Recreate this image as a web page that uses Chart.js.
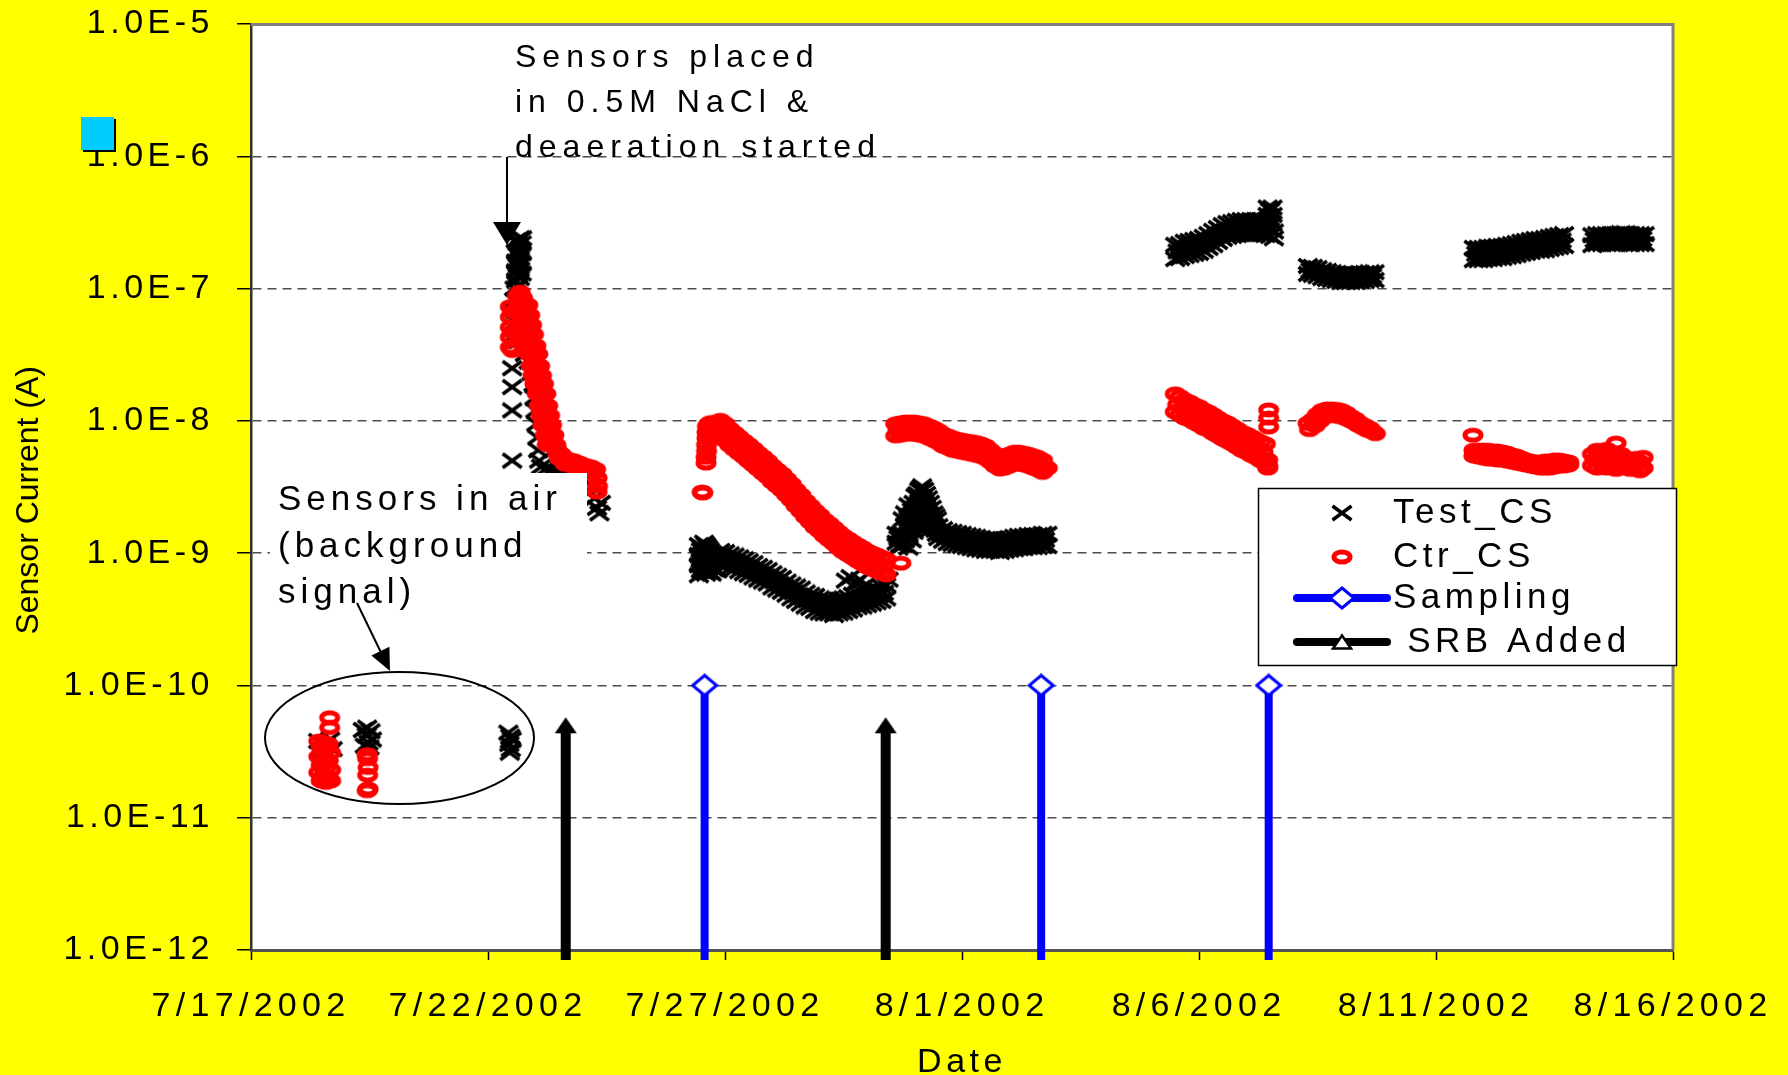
<!DOCTYPE html>
<html>
<head>
<meta charset="utf-8">
<title>Sensor Current vs Date</title>
<script src="https://cdn.jsdelivr.net/npm/chart.js@4/dist/chart.umd.min.js"></script>
<style>
  html, body { margin: 0; padding: 0; background: #ffff00; }
  #wrap { width: 1788px; height: 1075px; }
</style>
</head>
<body>
<div id="wrap"><canvas id="chart" width="1788" height="1075" style="width:1788px;height:1075px"></canvas></div>
<script>
// ---------------- DATA ----------------
// Each entry: [day, reading, reading, ...]  day = days since 7/17/2002 00:00, readings in A.
const xTickDays   = [0, 5, 10, 15, 20, 25, 30];
const xTickLabels = ['7/17/2002', '7/22/2002', '7/27/2002', '8/1/2002', '8/6/2002', '8/11/2002', '8/16/2002'];
const yTickValues = [1e-12, 1e-11, 1e-10, 1e-9, 1e-8, 1e-7, 1e-6, 1e-5];
const yTickLabels = ['1.0E-12', '1.0E-11', '1.0E-10', '1.0E-9', '1.0E-8', '1.0E-7', '1.0E-6', '1.0E-5'];

// Test_CS (black crosses)
const testAir = [[1.42,3.8e-11],[1.47,3.2e-11],[1.52,2.8e-11],[1.57,3.6e-11],[1.62,3.0e-11],[1.67,3.9e-11],[1.72,3.3e-11],
  [2.36,4.6e-11],[2.40,3.5e-11],[2.44,4.2e-11],[2.45,4.8e-11],[2.48,3.7e-11],[2.50,3.4e-11],[2.52,4.5e-11],[2.55,3.9e-11],
  [5.43,4.4e-11],[5.45,3.6e-11],[5.46,3.1e-11],[5.47,4.1e-11],[5.48,3.3e-11],[5.50,3.9e-11]];
const testJul22 = [[5.59,2.3e-7,1.9e-7,1.6e-7,1.35e-7,1.15e-7],[5.63,2.2e-7,1.8e-7,1.5e-7,1.25e-7,1.05e-7],
  [5.67,2.4e-7,2.0e-7,1.7e-7,1.4e-7,1.2e-7],[5.71,2.2e-7,1.85e-7,1.55e-7,1.3e-7],[5.72,2.4e-7],
  [5.51,2.5e-8,1.8e-8,1.2e-8,5.0e-9],
  [5.56,1.0e-7,8.2e-8],[5.57,6.8e-8],[5.58,5.6e-8],[5.60,4.6e-8],[5.64,4.0e-8],[5.70,3.6e-8],[5.78,3.2e-8],
  [5.86,2.8e-8],[5.92,2.3e-8],[5.96,1.9e-8],[5.98,1.5e-8],[6.00,1.2e-8],[6.02,9.5e-9],[6.04,7.5e-9],[6.06,6.0e-9],
  [6.08,5.0e-9],[6.12,4.5e-9],[6.20,4.3e-9],[6.30,4.2e-9],[6.40,4.2e-9],[6.50,4.2e-9],[6.60,4.1e-9],[6.70,4.1e-9],
  [6.80,4.0e-9],[6.90,3.9e-9],[7.00,3.7e-9],[7.10,3.4e-9],[7.15,2.9e-9],[7.20,3.2e-9],[7.25,2.6e-9],[7.30,2.2e-9],
  [7.35,2.0e-9],[7.38,2.4e-9]];
const testJul26 = [[9.45,1.15e-9,9.7e-10,8.1e-10,6.8e-10],[9.49,1.05e-9,8.8e-10,7.4e-10],[9.52,1.1e-9,9.2e-10,7.6e-10],
  [9.56,1.2e-9,1.0e-9,8.4e-10,7.2e-10],[9.60,1.15e-9,9.7e-10,8.1e-10,7.0e-10],[9.64,1.1e-9,9.0e-10,7.6e-10],
  [9.68,1.05e-9,8.6e-10,7.2e-10],[9.72,1.0e-9,8.2e-10,7.0e-10],[9.76,9.2e-10,7.6e-10],[9.80,9.0e-10,7.5e-10],[9.84,8.6e-10,7.4e-10],
  [9.9,1.04e-9,8.1e-10],[9.95,9.1e-10],[10.0,1.02e-9,8.0e-10],[10.05,8.9e-10],[10.1,9.8e-10,7.7e-10],[10.15,8.65e-10],
  [10.2,9.6e-10,7.6e-10],[10.25,8.4e-10],[10.3,9.3e-10,7.3e-10],[10.35,8.1e-10],[10.4,9.0e-10,7.05e-10],[10.45,7.85e-10],
  [10.5,8.7e-10,6.85e-10],[10.55,7.6e-10],[10.6,8.4e-10,6.55e-10],[10.65,7.25e-10],[10.7,8.0e-10,6.3e-10],[10.75,6.95e-10],
  [10.8,7.75e-10,6.1e-10],[10.85,6.7e-10],[10.9,7.45e-10,5.9e-10],[10.95,6.45e-10],[11.0,7.05e-10,5.5e-10],[11.05,6.1e-10],
  [11.1,6.75e-10,5.3e-10],[11.15,5.85e-10],[11.2,6.5e-10,5.1e-10],[11.25,5.6e-10],[11.3,6.1e-10,4.85e-10],[11.35,5.3e-10],
  [11.4,5.8e-10,4.55e-10],[11.45,5.05e-10],[11.5,5.6e-10,4.35e-10],[11.55,4.8e-10],[11.6,5.4e-10,4.15e-10],[11.65,4.6e-10],
  [11.7,5.05e-10,3.95e-10],[11.75,4.4e-10],[11.8,4.85e-10,3.85e-10],[11.85,4.3e-10],[11.9,4.75e-10,3.65e-10],[11.95,4.1e-10],
  [12.0,4.55e-10,3.55e-10],[12.05,4.0e-10],[12.1,4.45e-10,3.5e-10],[12.15,3.95e-10],[12.2,4.45e-10,3.5e-10],[12.25,3.9e-10],
  [12.3,4.35e-10,3.4e-10],[12.35,3.9e-10],[12.4,4.45e-10,3.5e-10],[12.45,4.0e-10],[12.5,4.55e-10,3.55e-10],[12.55,4.1e-10,6.2e-10],
  [12.6,4.65e-10,3.65e-10],[12.65,4.2e-10,6.6e-10],[12.7,4.85e-10,3.75e-10],[12.75,4.35e-10,5.9e-10],[12.8,4.95e-10,3.9e-10],
  [12.85,4.5e-10,6.3e-10],[12.9,5.05e-10,3.95e-10],[12.95,4.55e-10,5.7e-10],[13.0,5.2e-10,4.05e-10],[13.05,4.6e-10],
  [13.1,5.3e-10,4.15e-10],[13.15,4.7e-10],[13.2,5.4e-10,4.25e-10],[13.25,4.8e-10],[13.3,5.6e-10,4.35e-10],[13.35,5.0e-10],
  [13.4,5.7e-10,4.55e-10],[13.45,6.3e-10]];
const testJul31 = [[13.62,1.4e-9,1.2e-9],[13.66,1.3e-9,1.1e-9],[13.70,1.4e-9,1.15e-9],[13.75,1.8e-9,1.4e-9,1.15e-9],
  [13.80,2.0e-9,1.6e-9,1.25e-9],[13.87,2.3e-9,1.8e-9,1.4e-9,1.1e-9],[13.94,2.1e-9,1.6e-9,1.25e-9],[13.98,2.4e-9,1.9e-9,1.45e-9],
  [14.02,2.7e-9,2.1e-9,1.6e-9],[14.06,2.8e-9,2.2e-9,1.7e-9],[14.10,3.0e-9,2.4e-9,1.8e-9],[14.13,3.1e-9,2.5e-9,1.9e-9],
  [14.16,3.2e-9,2.6e-9,2.0e-9,1.5e-9],[14.20,3.0e-9,2.4e-9,1.8e-9],[14.24,2.8e-9,2.2e-9,1.7e-9],[14.28,2.6e-9,2.0e-9,1.6e-9],
  [14.32,2.4e-9,1.9e-9,1.5e-9],[14.36,2.2e-9,1.75e-9],[14.40,2.0e-9,1.6e-9],[14.44,1.9e-9,1.5e-9],[14.47,1.8e-9,1.4e-9],
  [14.5,1.6e-9,1.3e-9],[14.55,1.41e-9],[14.6,1.52e-9,1.24e-9],[14.65,1.35e-9],[14.7,1.47e-9,1.19e-9],[14.75,1.31e-9],
  [14.8,1.45e-9,1.17e-9],[14.85,1.29e-9],[14.9,1.42e-9,1.15e-9],[14.95,1.27e-9],[15.0,1.4e-9,1.13e-9],[15.05,1.25e-9],
  [15.1,1.37e-9,1.11e-9],[15.15,1.22e-9],[15.2,1.35e-9,1.09e-9],[15.25,1.2e-9],[15.3,1.33e-9,1.07e-9],[15.35,1.18e-9],
  [15.4,1.3e-9,1.06e-9],[15.45,1.16e-9],[15.5,1.28e-9,1.04e-9],[15.55,1.15e-9],[15.6,1.28e-9,1.04e-9],[15.65,1.15e-9],
  [15.7,1.28e-9,1.04e-9],[15.75,1.14e-9],[15.8,1.26e-9,1.02e-9],[15.85,1.14e-9],[15.9,1.28e-9,1.04e-9],[15.95,1.16e-9],
  [16.0,1.3e-9,1.06e-9],[16.05,1.18e-9],[16.1,1.33e-9,1.07e-9],[16.15,1.2e-9],[16.2,1.35e-9,1.09e-9],[16.25,1.21e-9],
  [16.3,1.35e-9,1.09e-9],[16.35,1.22e-9],[16.4,1.37e-9,1.11e-9],[16.45,1.24e-9],[16.5,1.37e-9,1.11e-9],[16.55,1.24e-9],
  [16.6,1.37e-9,1.11e-9],[16.65,1.25e-9],[16.7,1.4e-9,1.13e-9],[16.75,1.26e-9],[16.8,1.4e-9,1.13e-9]];
const testAug6 = [[19.5,2.14e-7,1.67e-7],[19.55,1.91e-7],[19.6,2.17e-7,1.7e-7],[19.65,1.96e-7],[19.7,2.26e-7,1.76e-7],
  [19.75,2.01e-7],[19.8,2.29e-7,1.79e-7],[19.85,2.04e-7],[19.9,2.33e-7,1.83e-7],[19.95,2.08e-7],[20.0,2.37e-7,1.86e-7],
  [20.05,2.14e-7],[20.1,2.46e-7,1.93e-7],[20.15,2.23e-7],[20.2,2.58e-7,2.03e-7],[20.25,2.35e-7],[20.3,2.73e-7,2.13e-7],
  [20.35,2.48e-7],[20.4,2.87e-7,2.25e-7],[20.45,2.61e-7],[20.5,3.02e-7,2.37e-7],[20.55,2.72e-7],[20.6,3.13e-7,2.46e-7],
  [20.65,2.8e-7],[20.7,3.18e-7,2.5e-7],[20.75,2.85e-7],[20.8,3.25e-7,2.54e-7],[20.85,2.9e-7],[20.9,3.3e-7,2.58e-7],
  [20.95,2.92e-7],[21.0,3.3e-7,2.58e-7],[21.05,2.92e-7],[21.1,3.3e-7,2.58e-7],[21.15,2.92e-7],[21.2,3.3e-7,2.58e-7],
  [21.25,2.92e-7],[21.3,3.3e-7,2.58e-7],[21.35,2.9e-7],[21.4,3.25e-7,2.54e-7],[21.45,2.85e-7,4.1e-7,3.6e-7],
  [21.5,3.18e-7,2.5e-7,3.9e-7,3.4e-7],[21.55,4.1e-7,3.6e-7,3.1e-7],[21.58,2.7e-7,2.4e-7]];
const testAug8 = [[22.3,1.48e-7,1.29e-7],[22.35,1.37e-7],[22.4,1.46e-7,1.27e-7],[22.45,1.35e-7],[22.5,1.43e-7,1.24e-7],
  [22.55,1.31e-7],[22.6,1.38e-7,1.2e-7],[22.65,1.28e-7],[22.7,1.36e-7,1.18e-7],[22.75,1.25e-7],[22.8,1.33e-7,1.16e-7],
  [22.85,1.23e-7],[22.9,1.31e-7,1.14e-7],[22.95,1.21e-7],[23.0,1.29e-7,1.12e-7],[23.05,1.2e-7],[23.1,1.29e-7,1.12e-7],
  [23.15,1.2e-7],[23.2,1.29e-7,1.12e-7],[23.25,1.2e-7],[23.3,1.29e-7,1.12e-7],[23.35,1.21e-7],[23.4,1.31e-7,1.14e-7],
  [23.45,1.22e-7],[23.5,1.31e-7,1.14e-7],[23.55,1.23e-7],[23.6,1.33e-7,1.16e-7],[23.65,1.24e-7],[23.7,1.33e-7,1.16e-7]];
const testAug12 = [[25.8,2.03e-7,1.64e-7],[25.85,1.83e-7],[25.9,2.03e-7,1.64e-7],[25.95,1.83e-7],[26.0,2.03e-7,1.64e-7],
  [26.05,1.84e-7],[26.1,2.07e-7,1.67e-7],[26.15,1.86e-7],[26.2,2.07e-7,1.67e-7],[26.25,1.88e-7],[26.3,2.1e-7,1.7e-7],
  [26.35,1.89e-7],[26.4,2.1e-7,1.7e-7],[26.45,1.91e-7],[26.5,2.14e-7,1.74e-7],[26.55,1.94e-7],[26.6,2.17e-7,1.76e-7],
  [26.65,1.98e-7],[26.7,2.21e-7,1.79e-7],[26.75,2.01e-7],[26.8,2.26e-7,1.83e-7],[26.85,2.04e-7],[26.9,2.29e-7,1.86e-7],
  [26.95,2.08e-7],[27.0,2.33e-7,1.89e-7],[27.05,2.12e-7],[27.1,2.37e-7,1.93e-7],[27.15,2.14e-7],[27.2,2.37e-7,1.93e-7],
  [27.25,2.15e-7],[27.3,2.41e-7,1.95e-7],[27.35,2.19e-7],[27.4,2.46e-7,1.99e-7],[27.45,2.23e-7],[27.5,2.5e-7,2.03e-7],
  [27.55,2.27e-7],[27.6,2.54e-7,2.06e-7],[27.65,2.31e-7],[27.7,2.58e-7,2.1e-7],
  [28.3,2.53e-7,2.13e-7],[28.35,2.33e-7],[28.4,2.58e-7,2.17e-7],[28.45,2.37e-7],[28.5,2.58e-7,2.17e-7],[28.55,2.37e-7],
  [28.6,2.58e-7,2.17e-7],[28.65,2.37e-7],[28.7,2.58e-7,2.17e-7],[28.75,2.37e-7],[28.8,2.58e-7,2.17e-7],[28.85,2.41e-7],
  [28.9,2.62e-7,2.21e-7],[28.95,2.41e-7],[29.0,2.62e-7,2.21e-7],[29.05,2.37e-7],[29.1,2.58e-7,2.17e-7],[29.15,2.37e-7],
  [29.2,2.58e-7,2.17e-7],[29.25,2.37e-7],[29.3,2.58e-7,2.17e-7],[29.35,2.37e-7],[29.4,2.58e-7,2.17e-7]];

// Ctr_CS (red circles)
const ctrAir = [[1.43,3.8e-11,2.9e-11,2.2e-11],[1.48,3.4e-11,2.5e-11,1.9e-11],[1.53,3.7e-11,2.8e-11,2.1e-11],
  [1.58,3.3e-11,2.4e-11,1.85e-11],[1.63,3.6e-11,2.7e-11,2.0e-11],[1.68,3.1e-11,2.3e-11,1.9e-11],[1.66,5.7e-11,4.8e-11],
  [2.45,3.0e-11,1.6e-11],[2.46,2.8e-11,2.1e-11],[2.47,2.4e-11,1.65e-11]];
const ctrJul22 = [[5.47,7.3e-8,6.1e-8,5.1e-8,4.3e-8,3.6e-8],[5.52,6.7e-8,4.7e-8,3.4e-8],[5.62,8.8e-8],[5.68,9.4e-8],[5.73,8.5e-8],
  [5.66,7.5e-8],[5.84,7.5e-8],[5.75,7.5e-8],[5.77,6.9e-8],[5.70,6.3e-8],[5.88,6.3e-8],[5.79,6.3e-8],[5.81,5.8e-8],
  [5.74,5.3e-8],[5.92,5.3e-8],[5.83,5.3e-8],[5.85,4.9e-8],[5.78,4.5e-8],[5.96,4.5e-8],[5.87,4.5e-8],[5.89,4.1e-8],
  [5.83,3.7e-8],[6.01,3.7e-8],[5.92,3.7e-8],[5.94,3.4e-8],[5.87,3.2e-8],[6.05,3.2e-8],[5.96,3.2e-8],[5.98,2.9e-8],
  [5.91,2.6e-8],[6.09,2.6e-8],[6.00,2.6e-8],[6.02,2.4e-8],[5.95,2.2e-8],[6.13,2.2e-8],[6.04,2.2e-8],[6.06,2.0e-8],
  [5.99,1.9e-8],[6.17,1.9e-8],[6.08,1.9e-8],[6.11,1.7e-8],[6.04,1.6e-8],[6.22,1.6e-8],[6.13,1.6e-8],[6.15,1.44e-8],
  [6.08,1.3e-8],[6.26,1.3e-8],[6.17,1.3e-8],[6.19,1.21e-8],[6.12,1.1e-8],[6.30,1.1e-8],[6.21,1.1e-8],[6.23,1.02e-8],
  [6.16,9.3e-9],[6.34,9.3e-9],[6.25,9.3e-9],[6.27,8.5e-9],[6.21,7.8e-9],[6.39,7.8e-9],[6.30,7.8e-9],[6.32,7.2e-9],
  [6.25,6.6e-9],[6.43,6.6e-9],[6.34,6.6e-9],
  [6.45,6.1e-9],[6.48,5.6e-9],[6.51,5.2e-9],[6.54,5.6e-9],[6.57,5.4e-9],[6.60,5.0e-9],[6.63,4.7e-9],[6.66,5.1e-9],
  [6.69,5.1e-9],[6.72,4.8e-9],[6.75,4.6e-9],[6.78,4.9e-9],[6.81,5.0e-9],[6.84,4.6e-9],[6.87,4.4e-9],[6.90,4.7e-9],
  [6.93,4.8e-9],[6.96,4.4e-9],[6.99,4.2e-9],[7.02,4.5e-9],[7.05,4.6e-9],[7.08,4.3e-9],[7.11,4.1e-9],[7.14,4.4e-9],
  [7.17,4.5e-9],[7.20,4.1e-9],[7.23,4.0e-9],[7.27,4.3e-9],[7.30,3.7e-9,2.9e-9],[7.31,3.2e-9]];
const ctrJul26 = [[9.52,2.9e-9],[9.53,2.85e-9],
  [9.60,4.8e-9,5.3e-9],[9.61,5.9e-9,6.6e-9],[9.62,7.4e-9,8.2e-9],[9.63,9.1e-9],[9.66,9.5e-9],[9.70,9.7e-9],[9.76,9.6e-9],[9.82,9.3e-9],
  [9.9,1.01e-8,7.7e-9],[9.95,8.53e-9],[10.0,9.5e-9,7.15e-9],[10.05,7.89e-9],[10.1,8.7e-9,6.55e-9],[10.15,7.3e-9],
  [10.2,8.1e-9,6.1e-9],[10.25,6.8e-9],[10.3,7.55e-9,5.7e-9],[10.35,6.35e-9],[10.4,7.05e-9,5.35e-9],[10.45,5.92e-9],
  [10.5,6.6e-9,4.97e-9],[10.55,5.52e-9],[10.6,6.15e-9,4.64e-9],[10.65,5.15e-9],[10.7,5.7e-9,4.33e-9],[10.75,4.8e-9],
  [10.8,5.35e-9,4.03e-9],[10.85,4.48e-9],[10.9,4.97e-9,3.77e-9],[10.95,4.15e-9],[11.0,4.56e-9,3.45e-9],[11.05,3.83e-9],
  [11.1,4.25e-9,3.22e-9],[11.15,3.57e-9],[11.2,3.97e-9,3.0e-9],[11.25,3.3e-9],[11.3,3.64e-9,2.75e-9],[11.35,3.03e-9],
  [11.4,3.33e-9,2.52e-9],[11.45,2.75e-9],[11.5,3.0e-9,2.27e-9],[11.55,2.5e-9],[11.6,2.75e-9,2.08e-9],[11.65,2.27e-9],
  [11.7,2.48e-9,1.88e-9],[11.75,2.06e-9],[11.8,2.28e-9,1.72e-9],[11.85,1.89e-9],[11.9,2.09e-9,1.57e-9],[11.95,1.75e-9],
  [12.0,1.94e-9,1.47e-9],[12.05,1.62e-9],[12.1,1.78e-9,1.35e-9],[12.15,1.5e-9],[12.2,1.67e-9,1.26e-9],[12.25,1.4e-9],
  [12.3,1.55e-9,1.18e-9],[12.35,1.3e-9],[12.4,1.44e-9,1.09e-9],[12.45,1.21e-9],[12.5,1.35e-9,1.02e-9],[12.55,1.14e-9],
  [12.6,1.28e-9,9.7e-10],[12.65,1.09e-9],[12.7,1.21e-9,9.2e-10],[12.75,1.03e-9],[12.8,1.15e-9,8.7e-10],
  [12.85,9.8e-10],[12.9,1.1e-9,8.3e-10],[12.95,9.3e-10],[13.0,1.04e-9,7.85e-10],[13.05,8.9e-10],[13.1,1.0e-9,7.6e-10],
  [13.15,8.6e-10],[13.2,9.7e-10,7.3e-10],[13.25,8.3e-10],[13.3,9.35e-10,7.1e-10],[13.35,8.0e-10],[13.4,9.0e-10,6.85e-10],
  [13.71,8.4e-10]];
const ctrJul31 = [[13.6,9.5e-9,7.7e-9],[13.65,8.6e-9],[13.7,9.65e-9,7.8e-9],[13.75,8.75e-9],[13.8,9.8e-9,7.95e-9],[13.85,8.83e-9],
  [13.9,9.8e-9,7.95e-9],[13.95,8.83e-9],[14.0,9.8e-9,7.95e-9],[14.05,8.75e-9],[14.1,9.65e-9,7.8e-9],[14.15,8.6e-9],
  [14.2,9.5e-9,7.7e-9],[14.25,8.38e-9],[14.3,9.15e-9,7.4e-9],[14.35,8.1e-9],[14.4,8.85e-9,7.15e-9],[14.45,7.75e-9],
  [14.5,8.45e-9,6.85e-9],[14.55,7.36e-9],[14.6,7.95e-9,6.45e-9],[14.65,7.05e-9],[14.7,7.7e-9,6.25e-9],[14.75,6.8e-9],
  [14.8,7.45e-9,6.0e-9],[14.85,6.63e-9],[14.9,7.25e-9,5.9e-9],[14.95,6.52e-9],[15.0,7.15e-9,5.8e-9],[15.05,6.4e-9],
  [15.1,7.05e-9,5.7e-9],[15.15,6.3e-9],[15.2,6.95e-9,5.6e-9],[15.25,6.18e-9],[15.3,6.85e-9,5.5e-9],[15.35,6.07e-9],
  [15.4,6.7e-9,5.4e-9],[15.45,5.92e-9],[15.5,6.45e-9,5.2e-9],[15.55,5.62e-9],[15.6,6.0e-9,4.9e-9],[15.65,5.24e-9],
  [15.7,5.6e-9,4.55e-9],[15.75,4.93e-9],[15.8,5.35e-9,4.33e-9],[15.85,4.85e-9],[15.9,5.45e-9,4.4e-9],[15.95,4.97e-9],
  [16.0,5.6e-9,4.55e-9],[16.05,5.15e-9],[16.1,5.8e-9,4.75e-9],[16.15,5.24e-9],[16.2,5.8e-9,4.75e-9],[16.25,5.2e-9],
  [16.3,5.7e-9,4.65e-9],[16.35,5.1e-9],[16.4,5.6e-9,4.55e-9],[16.45,4.97e-9],[16.5,5.45e-9,4.4e-9],[16.55,4.8e-9],
  [16.6,5.3e-9,4.27e-9],[16.65,4.64e-9],[16.7,5.05e-9,4.08e-9],[16.75,4.48e-9],[16.8,4.4e-9]];
const ctrAug6 = [[19.5,1.6e-8,1.17e-8],[19.55,1.33e-8],[19.6,1.52e-8,1.11e-8],[19.65,1.26e-8],[19.7,1.44e-8,1.05e-8],
  [19.75,1.21e-8],[19.8,1.39e-8,1.02e-8],[19.85,1.16e-8],[19.9,1.32e-8,9.7e-9],[19.95,1.11e-8],[20.0,1.28e-8,9.3e-9],
  [20.05,1.06e-8],[20.1,1.21e-8,8.8e-9],[20.15,1.02e-8],[20.2,1.17e-8,8.55e-9],[20.25,9.7e-9],[20.3,1.11e-8,8.05e-9],
  [20.35,9.2e-9],[20.4,1.05e-8,7.7e-9],[20.45,8.75e-9],[20.5,1.0e-8,7.3e-9],[20.55,8.4e-9],[20.6,9.65e-9,7.0e-9],
  [20.65,8.0e-9],[20.7,9.15e-9,6.7e-9],[20.75,7.6e-9],[20.8,8.7e-9,6.35e-9],[20.85,7.2e-9],[20.9,8.2e-9,6.0e-9],
  [20.95,6.9e-9],[21.0,7.95e-9,5.8e-9],[21.05,6.6e-9],[21.1,7.6e-9,5.5e-9],[21.15,6.35e-9],[21.2,7.25e-9,5.3e-9],
  [21.25,6.1e-9],[21.3,6.95e-9,5.0e-9],[21.35,5.8e-9],[21.4,6.7e-9,4.9e-9],[21.45,5.06e-9,4.56e-9,4.4e-9],
  [21.47,1.21e-8,1.05e-8,9.0e-9]];
const ctrAug8 = [[22.30,9.6e-9],[22.33,8.6e-9],[22.40,1.02e-8],[22.45,9.2e-9],[22.50,1.12e-8],[22.55,1.0e-8],[22.60,1.2e-8],
  [22.65,1.08e-8],[22.70,1.23e-8],[22.75,1.1e-8],[22.80,1.23e-8],[22.85,1.1e-8],[22.90,1.22e-8],[22.95,1.08e-8],
  [23.00,1.2e-8],[23.05,1.06e-8],[23.10,1.15e-8],[23.15,1.02e-8],[23.20,1.08e-8],[23.25,9.8e-9],[23.30,1.03e-8],
  [23.35,9.3e-9],[23.40,9.6e-9],[23.45,8.9e-9],[23.50,9.2e-9],[23.55,8.5e-9],[23.60,8.8e-9],[23.66,8.3e-9],[23.72,8.0e-9]];
const ctrAug12 = [[25.78,7.8e-9],
  [25.8,6.0e-9,5.43e-9],[25.85,5.67e-9],[25.9,6.0e-9,5.33e-9],[25.95,5.62e-9],[26.0,6.0e-9,5.24e-9],[26.05,5.57e-9],
  [26.1,6.0e-9,5.15e-9],[26.15,5.55e-9],[26.2,5.92e-9,5.15e-9],[26.25,5.52e-9],[26.3,5.92e-9,5.06e-9],[26.35,5.45e-9],
  [26.4,5.82e-9,5.06e-9],[26.45,5.38e-9],[26.5,5.72e-9,4.97e-9],[26.55,5.26e-9],[26.6,5.52e-9,4.89e-9],[26.65,5.15e-9],
  [26.7,5.43e-9,4.8e-9],[26.75,5.03e-9],[26.8,5.24e-9,4.72e-9],[26.85,4.9e-9],[26.9,5.06e-9,4.64e-9],[26.95,4.8e-9],
  [27.0,4.97e-9,4.56e-9],[27.05,4.72e-9],[27.1,4.89e-9,4.48e-9],[27.15,4.66e-9],[27.2,4.89e-9,4.4e-9],[27.25,4.66e-9],
  [27.3,4.97e-9,4.4e-9],[27.35,4.68e-9],[27.4,4.97e-9,4.4e-9],[27.45,4.72e-9],[27.5,5.06e-9,4.48e-9],[27.55,4.78e-9],
  [27.6,5.06e-9,4.56e-9],[27.65,4.78e-9],[27.7,4.97e-9,4.56e-9],[27.75,4.76e-9],[27.8,4.89e-9,4.64e-9],
  [28.3,5.6e-9,4.6e-9],[28.35,5.1e-9],[28.4,6.0e-9,5.0e-9,4.4e-9],[28.45,5.4e-9],[28.5,5.8e-9,4.7e-9],[28.55,5.2e-9],
  [28.6,6.1e-9,5.1e-9,4.4e-9],[28.65,5.4e-9],[28.7,5.7e-9,4.6e-9],[28.75,5.1e-9],[28.8,6.8e-9,5.0e-9,4.3e-9],[28.85,5.3e-9],
  [28.9,5.6e-9,4.6e-9],[28.95,5.0e-9],[29.0,5.2e-9,4.4e-9],[29.05,4.8e-9],[29.1,5.0e-9,4.3e-9],[29.15,4.7e-9],
  [29.2,5.2e-9,4.5e-9],[29.25,4.8e-9],[29.3,4.9e-9,4.2e-9],[29.37,5.3e-9,4.4e-9]];

// Event markers
const samplingDays  = [9.57, 16.67, 21.47];   // 7/26, 8/2, 8/7
const samplingLevel = 1e-10;
const srbDays       = [6.64, 13.39];          // 7/23, 7/30
const srbLevel      = 5.0e-11;

// ---------------- STYLE / LAYOUT ----------------
const FONT = "'Liberation Sans', Arial, Helvetica, sans-serif";
const stemEnd = 8.4e-13;   // stems run slightly past the x axis, as in the original

function makeCanvas(w, h, draw) {
  const c = document.createElement('canvas'); c.width = w; c.height = h;
  draw(c.getContext('2d')); return c;
}
const crossImg = makeCanvas(24, 18, g => {
  g.strokeStyle = '#000'; g.lineWidth = 3.5; g.beginPath();
  g.moveTo(2.5, 2); g.lineTo(21.5, 16); g.moveTo(21.5, 2); g.lineTo(2.5, 16); g.stroke();
});
const ringImg = makeCanvas(24, 18, g => {
  g.strokeStyle = '#ff0000'; g.lineWidth = 5; g.beginPath();
  g.ellipse(12, 9, 8, 5, 0, 0, Math.PI * 2); g.stroke();
});
const diamondImg = makeCanvas(28, 24, g => {
  g.fillStyle = '#fff'; g.strokeStyle = '#0000ff'; g.lineWidth = 3; g.beginPath();
  g.moveTo(14, 2); g.lineTo(26, 12); g.lineTo(14, 22); g.lineTo(2, 12); g.closePath(); g.fill(); g.stroke();
});
const arrowImg = makeCanvas(24, 18, g => {
  g.fillStyle = '#000'; g.beginPath(); g.moveTo(12, 1); g.lineTo(23, 17); g.lineTo(1, 17); g.closePath(); g.fill();
});
const triLegendImg = makeCanvas(24, 18, g => {
  g.fillStyle = '#fff'; g.strokeStyle = '#000'; g.lineWidth = 2.5; g.beginPath();
  g.moveTo(12, 2.5); g.lineTo(21, 15.5); g.lineTo(3, 15.5); g.closePath(); g.fill(); g.stroke();
});

const toPts = arr => arr.flatMap(([d, ...vals]) => vals.map(v => ({ x: d, y: v })));
const stems = (days, level) => days.flatMap(d => [{ x: d, y: level }, { x: d, y: stemEnd }, { x: d, y: null }]);

const datasets = [
  { label: 'Test_CS', data: toPts([].concat(testAir, testJul22, testJul26, testJul31, testAug6, testAug8, testAug12)),
    pointStyle: crossImg, pointRadius: 9, showLine: false, order: 3, legendMarker: crossImg },
  { label: 'Ctr_CS', data: toPts([].concat(ctrAir, ctrJul22, ctrJul26, ctrJul31, ctrAug6, ctrAug8, ctrAug12)),
    pointStyle: ringImg, pointRadius: 9, showLine: false, order: 2, legendMarker: ringImg },
  { label: 'Sampling', data: stems(samplingDays, samplingLevel), showLine: true, borderColor: '#0000ff', borderWidth: 8,
    pointStyle: ctx => (ctx.raw && ctx.raw.y === samplingLevel) ? diamondImg : 'circle',
    pointRadius: ctx => (ctx.raw && ctx.raw.y === samplingLevel) ? 12 : 0,
    clip: { left: 0, top: 0, right: 0, bottom: 14 }, order: 1, legendMarker: diamondImg, legendLine: '#0000ff' },
  { label: ' SRB Added', data: stems(srbDays, srbLevel), showLine: true, borderColor: '#000000', borderWidth: 10,
    pointStyle: ctx => (ctx.raw && ctx.raw.y === srbLevel) ? arrowImg : 'circle',
    pointRadius: ctx => (ctx.raw && ctx.raw.y === srbLevel) ? 11 : 0,
    clip: { left: 0, top: 0, right: 0, bottom: 14 }, order: 0, legendMarker: triLegendImg, legendLine: '#000000' }
];

// Annotation layout (pixels)
const noteNaCl = { lines: ['Sensors placed', 'in 0.5M NaCl &', 'deaeration started'], x: 515, y: 66.7, dy: 45, size: 32, spacing: 6 };
const noteAir  = { lines: ['Sensors in air', '(background', 'signal)'], x: 278, y: 510, dy: 46.5, size: 35, spacing: 5,
                   box: [270, 473, 317, 145] };

function drawLines(ctx, n) {
  ctx.save();
  ctx.font = n.size + 'px ' + FONT; ctx.letterSpacing = n.spacing + 'px';
  ctx.fillStyle = '#000'; ctx.textAlign = 'left'; ctx.textBaseline = 'alphabetic';
  n.lines.forEach((t, i) => ctx.fillText(t, n.x, n.y + i * n.dy));
  ctx.restore();
}
function arrow(ctx, x1, y1, x2, y2, len, half) {
  const dx = x2 - x1, dy = y2 - y1, L = Math.hypot(dx, dy), ux = dx / L, uy = dy / L;
  const bx = x2 - ux * len, by = y2 - uy * len;
  ctx.beginPath(); ctx.moveTo(x1, y1); ctx.lineTo(bx, by); ctx.stroke();
  ctx.beginPath(); ctx.moveTo(x2, y2); ctx.lineTo(bx - uy * half, by + ux * half); ctx.lineTo(bx + uy * half, by - ux * half);
  ctx.closePath(); ctx.fill();
}
function withSpacing(scale, method, spacing) {
  const orig = scale[method];
  scale[method] = function (...args) { const c = this.ctx, p = c.letterSpacing; c.letterSpacing = spacing; orig.apply(this, args); c.letterSpacing = p; };
}

const decorPlugin = {
  id: 'decor',
  beforeUpdate(chart) { chart.ctx.letterSpacing = '4.5px'; },
  beforeDraw(chart) {
    const { ctx, chartArea: a } = chart;
    ctx.save();
    ctx.fillStyle = '#ffff00'; ctx.fillRect(0, 0, chart.width, chart.height);
    ctx.fillStyle = '#ffffff'; ctx.fillRect(a.left, a.top, a.right - a.left, a.bottom - a.top);
    ctx.restore();
    ctx.letterSpacing = '4.5px';
    const ys = chart.scales.y, xs = chart.scales.x;
    if (ys && !ys._spacingSet) { withSpacing(ys, 'drawTitle', '0px'); ys._spacingSet = true; }
    if (xs && !xs._spacingSet) { withSpacing(xs, 'drawLabels', '5.3px'); xs._spacingSet = true; }
  },
  afterDatasetsDraw(chart) {
    const { ctx, chartArea: a } = chart;
    ctx.save();
    ctx.strokeStyle = '#808080'; ctx.lineWidth = 3;
    ctx.beginPath(); ctx.moveTo(a.left, a.top + 0.5); ctx.lineTo(a.right, a.top + 0.5); ctx.lineTo(a.right, a.bottom); ctx.stroke();
    drawLines(ctx, noteNaCl);
    ctx.strokeStyle = '#000'; ctx.fillStyle = '#000'; ctx.lineWidth = 2;
    arrow(ctx, 507, 157, 507, 245, 23, 14);
    const b = noteAir.box;
    ctx.fillStyle = '#ffffff'; ctx.fillRect(b[0], b[1], b[2], b[3]);
    drawLines(ctx, noteAir);
    ctx.strokeStyle = '#000'; ctx.fillStyle = '#000'; ctx.lineWidth = 2;
    arrow(ctx, 357, 603, 390, 671, 22, 10);
    ctx.beginPath(); ctx.ellipse(399.5, 738, 134.5, 66, 0, 0, Math.PI * 2); ctx.stroke();
    ctx.restore();
  },
  afterDraw(chart) {
    const ctx = chart.ctx;
    ctx.save();
    const L = { x: 1258, y: 488, w: 418, h: 177, rows: [513, 557, 598, 642], mx: 1342, tx: 1393, lx1: 1297, lx2: 1387 };
    ctx.fillStyle = '#fff'; ctx.fillRect(L.x, L.y, L.w, L.h);
    ctx.strokeStyle = '#000'; ctx.lineWidth = 1.5; ctx.strokeRect(L.x + 0.5, L.y + 0.5, L.w, L.h);
    ctx.font = '35px ' + FONT; ctx.letterSpacing = '4.5px'; ctx.fillStyle = '#000';
    ctx.textAlign = 'left'; ctx.textBaseline = 'middle';
    chart.data.datasets.forEach((ds, i) => {
      const cy = L.rows[i];
      if (ds.legendLine) {
        ctx.strokeStyle = ds.legendLine; ctx.lineWidth = 8; ctx.lineCap = 'round';
        ctx.beginPath(); ctx.moveTo(L.lx1, cy); ctx.lineTo(L.lx2, cy); ctx.stroke();
      }
      const m = ds.legendMarker;
      ctx.drawImage(m, L.mx - m.width / 2, cy - m.height / 2);
      ctx.fillStyle = '#000';
      ctx.fillText(ds.label, L.tx, cy);
    });
    ctx.fillStyle = '#000'; ctx.fillRect(83, 119, 33, 33);
    ctx.fillStyle = '#00ccff'; ctx.fillRect(81, 117, 33, 33);
    ctx.restore();
  }
};

new Chart(document.getElementById('chart'), {
  type: 'scatter',
  data: { datasets },
  options: {
    responsive: false, animation: false, events: [],
    devicePixelRatio: 1,
    layout: { padding: { left: 0, top: 0, right: 115, bottom: 0 } },
    plugins: { legend: { display: false }, tooltip: { enabled: false } },
    scales: {
      x: {
        type: 'linear', min: 0, max: 30,
        afterBuildTicks: s => { s.ticks = xTickDays.map(v => ({ value: v })); },
        ticks: { callback: (v, i) => xTickLabels[i], font: { family: FONT, size: 34 }, color: '#000', padding: 26,
                 maxRotation: 0, minRotation: 0, autoSkip: false },
        grid: { display: true, drawOnChartArea: false, drawTicks: true, tickLength: 10, tickColor: '#000', tickWidth: 1.5 },
        border: { display: true, color: '#555555', width: 3 },
        title: { display: true, text: 'Date', color: '#000', font: { family: FONT, size: 34, lineHeight: 0.7 }, padding: { top: 0, bottom: 0 } },
        afterFit: s => { s.height = 125; s.paddingLeft = 0; s.paddingRight = 0; }
      },
      y: {
        type: 'logarithmic', min: 1e-12, max: 1e-5,
        afterBuildTicks: s => { s.ticks = yTickValues.map(v => ({ value: v })); },
        ticks: { callback: (v, i) => yTickLabels[i], font: { family: FONT, size: 34 }, color: '#000', padding: 23, autoSkip: false },
        grid: { color: c => (c.index === 0 || c.index === yTickValues.length - 1) ? 'rgba(0,0,0,0)' : '#4d4d4d',
                lineWidth: 1.5, drawTicks: true, tickLength: 14, tickColor: '#000', tickWidth: 1.5 },
        border: { display: true, color: '#333333', width: 2.5, dash: [9, 6] },
        title: { display: true, text: 'Sensor Current (A)   ', color: '#000', font: { family: FONT, size: 32 }, padding: { top: 10, bottom: 0 } },
        afterFit: s => { s.width = 251; s.paddingTop = 24; s.paddingBottom = 0; }
      }
    }
  },
  plugins: [decorPlugin]
});
</script>
</body>
</html>
